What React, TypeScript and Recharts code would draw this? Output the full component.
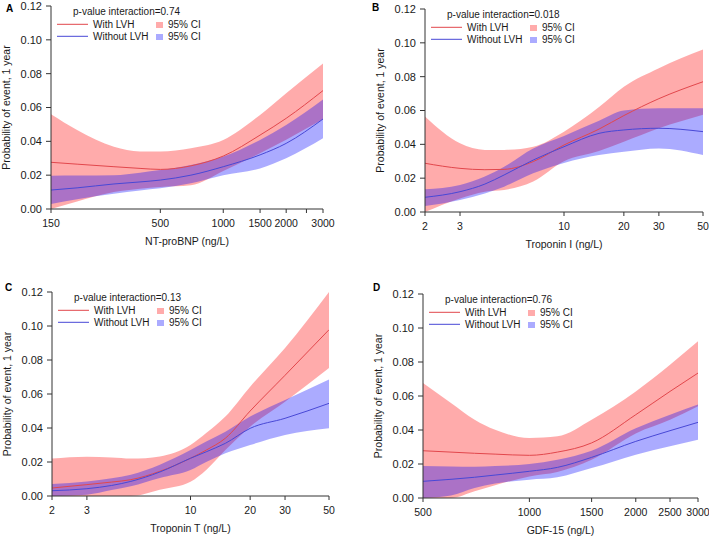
import React from 'react';
import { ComposedChart, Area, Line, XAxis, YAxis } from 'recharts';

// ---------- Panel A: NT-proBNP ----------
const aX = [150, 200, 300, 400, 500, 700, 1000, 1500, 2000, 3000];
const aRed = [0.0276, 0.0265, 0.025, 0.024, 0.0234, 0.0255, 0.0313, 0.0437, 0.0536, 0.07];
const aRedLo = [0.0, 0.0045, 0.01, 0.012, 0.013, 0.014, 0.0225, 0.033, 0.041, 0.053];
const aRedHi = [0.056, 0.0467, 0.0368, 0.034, 0.034, 0.0359, 0.0408, 0.0556, 0.0684, 0.086];
const aBlue = [0.0112, 0.0125, 0.0148, 0.016, 0.0171, 0.02, 0.025, 0.032, 0.0388, 0.0532];
const aBlueLo = [0.003, 0.0058, 0.009, 0.011, 0.0122, 0.0152, 0.02, 0.024, 0.03, 0.0418];
const aBlueHi = [0.0197, 0.0198, 0.02, 0.0215, 0.023, 0.026, 0.031, 0.0408, 0.0497, 0.0648];
const aTicks = [150, 500, 1000, 1500, 2000, 2500, 3000];
const aHidden = [2500];

// ---------- Panel B: Troponin I ----------
const bX = [2, 3, 4, 5, 7, 10, 15, 20, 30, 50];
const bRed = [0.0288, 0.0258, 0.025, 0.0252, 0.0298, 0.0396, 0.049, 0.057, 0.067, 0.077];
const bRedLo = [0.0, 0.008, 0.012, 0.013, 0.018, 0.03, 0.036, 0.0415, 0.0495, 0.0575];
const bRedHi = [0.0564, 0.0406, 0.0367, 0.0367, 0.0386, 0.0475, 0.062, 0.074, 0.085, 0.096];
const bBlue = [0.0087, 0.012, 0.0165, 0.0219, 0.0307, 0.0386, 0.0465, 0.0485, 0.0495, 0.0475];
const bBlueLo = [0.0035, 0.0071, 0.011, 0.015, 0.0229, 0.029, 0.0337, 0.0356, 0.0376, 0.0337];
const bBlueHi = [0.0134, 0.016, 0.021, 0.0268, 0.0376, 0.045, 0.054, 0.06, 0.0613, 0.0613];
const bTicks = [2, 3, 10, 20, 30, 50];

// ---------- Panel C: Troponin T ----------
const cX = [2, 3, 4, 5, 7, 10, 12, 15, 20, 30, 50];
const cRed = [0.0047, 0.0067, 0.0082, 0.0096, 0.0145, 0.0222, 0.027, 0.034, 0.05, 0.071, 0.0978];
const cRedLo = [0.0, 0.0, 0.0, 0.0, 0.0037, 0.0084, 0.0153, 0.027, 0.0408, 0.0555, 0.0753];
const cRedHi = [0.022, 0.0231, 0.0226, 0.022, 0.0233, 0.03, 0.037, 0.0467, 0.0643, 0.087, 0.12];
const cBlue = [0.0031, 0.0043, 0.0062, 0.0086, 0.0141, 0.0222, 0.026, 0.031, 0.0398, 0.0457, 0.0545];
const cBlueLo = [0.0, 0.0008, 0.0035, 0.0057, 0.0106, 0.0153, 0.02, 0.0251, 0.03, 0.0359, 0.0398];
const cBlueHi = [0.007, 0.0086, 0.0105, 0.0125, 0.0184, 0.027, 0.032, 0.0378, 0.0467, 0.0565, 0.0686];
const cTicks = [2, 3, 10, 20, 30, 50];

// ---------- Panel D: GDF-15 ----------
const dX = [500, 600, 700, 800, 1000, 1200, 1500, 2000, 2500, 3000];
const dRed = [0.0278, 0.027, 0.0263, 0.0258, 0.0251, 0.027, 0.0324, 0.049, 0.0627, 0.0735];
const dRedLo = [0.0, 0.0, 0.0039, 0.0075, 0.0127, 0.0153, 0.0225, 0.038, 0.046, 0.054];
const dRedHi = [0.0676, 0.0559, 0.0461, 0.0402, 0.0353, 0.0363, 0.0461, 0.0627, 0.0784, 0.0922];
const dBlue = [0.0098, 0.011, 0.0122, 0.0135, 0.0157, 0.018, 0.0239, 0.0333, 0.0396, 0.0445];
const dBlueLo = [0.0, 0.0015, 0.0059, 0.0085, 0.0108, 0.0122, 0.0176, 0.0255, 0.0304, 0.0343];
const dBlueHi = [0.0188, 0.0186, 0.0184, 0.0188, 0.02, 0.0225, 0.0278, 0.041, 0.049, 0.055];
const dTicks = [500, 1000, 1500, 2000, 2500, 3000];

const yTicks = [0, 0.02, 0.04, 0.06, 0.08, 0.1, 0.12];

const RED = '#ff0000';
const BLUE = '#0000ff';
const RED_LINE = '#e2474c';
const BLUE_LINE = '#4848d6';
const CI_OPACITY = 0.33;
const TEXT = '#1a1a1a';
const FONT = '"Liberation Sans", Arial, Helvetica, sans-serif';

function buildRows(x: number[], red: number[], redLo: number[], redHi: number[], blue: number[], blueLo: number[], blueHi: number[]) {
  return x.map((v, i) => ({
    x: v,
    red: red[i],
    redCI: [redLo[i], redHi[i]],
    blue: blue[i],
    blueCI: [blueLo[i], blueHi[i]],
  }));
}

type PanelProps = {
  letter: string;
  letterLeft: number;
  letterTop: number;
  left: number;
  top: number;
  width: number;
  height: number;
  margin: { top: number; right: number; bottom: number; left: number };
  rows: any[];
  domain: [number, number];
  ticks: number[];
  hidden?: number[];
  xTitle: string;
  pval: string;
};

const Y_AXIS_W = 51;

function LegendBox({ pval }: { pval: string }) {
  return (
    <svg width={200} height={40} style={{ position: 'absolute', left: 0, top: 0, overflow: 'visible' }}>
      <g fontFamily={FONT} fontSize={10} fill={TEXT}>
        <text x={22} y={9}>{`p-value interaction=${pval}`}</text>
        <line x1={6} x2={37} y1={18.3} y2={18.3} stroke={RED_LINE} strokeWidth={1} />
        <text x={42} y={22}>With LVH</text>
        <rect x={105} y={16} width={7} height={6} fill={RED} fillOpacity={CI_OPACITY} />
        <text x={117} y={22}>95% CI</text>
        <line x1={6} x2={37} y1={30.3} y2={30.3} stroke={BLUE_LINE} strokeWidth={1} />
        <text x={42} y={34}>Without LVH</text>
        <rect x={105} y={28} width={7} height={6} fill={BLUE} fillOpacity={CI_OPACITY} />
        <text x={117} y={34}>95% CI</text>
      </g>
    </svg>
  );
}

function Panel(p: PanelProps) {
  const hidden = p.hidden || [];
  const plotLeft = p.margin.left + Y_AXIS_W;
  return (
    <div style={{ position: 'absolute', left: p.left, top: p.top, width: p.width, height: p.height }}>
      <ComposedChart width={p.width} height={p.height} data={p.rows} margin={p.margin}>
        <XAxis
          dataKey="x"
          type="number"
          scale="log"
          domain={p.domain}
          ticks={p.ticks}
          allowDataOverflow
          interval={0}
          height={40}
          tickSize={4}
          tickMargin={7}
          stroke="#333"
          tick={{ fontSize: 10.5, fill: TEXT, fontFamily: FONT }}
          tickFormatter={(v: number) => (hidden.includes(v) ? '' : String(v))}
          label={{ value: p.xTitle, position: 'insideBottom', offset: 4, fontSize: 10.5, fill: TEXT, fontFamily: FONT }}
        />
        <YAxis
          type="number"
          domain={[0, 0.12]}
          ticks={yTicks}
          allowDataOverflow
          interval={0}
          width={Y_AXIS_W}
          tickSize={5}
          tickMargin={4}
          stroke="#333"
          tick={{ fontSize: 11, fill: TEXT, fontFamily: FONT }}
          tickFormatter={(v: number) => v.toFixed(2)}
          label={{
            value: 'Probability of event, 1 year',
            angle: -90,
            position: 'insideLeft',
            offset: 6,
            fontSize: 10.5,
            fill: TEXT,
            fontFamily: FONT,
            style: { textAnchor: 'middle' },
          }}
        />
        <Area dataKey="redCI" type="monotone" fill={RED} fillOpacity={CI_OPACITY} stroke="none" isAnimationActive={false} />
        <Area dataKey="blueCI" type="monotone" fill={BLUE} fillOpacity={CI_OPACITY} stroke="none" isAnimationActive={false} />
        <Line dataKey="red" type="monotone" stroke={RED_LINE} strokeWidth={1} dot={false} isAnimationActive={false} />
        <Line dataKey="blue" type="monotone" stroke={BLUE_LINE} strokeWidth={1} dot={false} isAnimationActive={false} />
      </ComposedChart>
      <div style={{ position: 'absolute', left: plotLeft, top: p.margin.top, width: 200, height: 40 }}>
        <LegendBox pval={p.pval} />
      </div>
      <div
        style={{
          position: 'absolute',
          left: p.letterLeft,
          top: p.letterTop,
          fontFamily: FONT,
          fontWeight: 'bold',
          fontSize: 10,
          lineHeight: '10px',
          color: '#000',
        }}
      >
        {p.letter}
      </div>
    </div>
  );
}

export default function App() {
  const rowsA = buildRows(aX, aRed, aRedLo, aRedHi, aBlue, aBlueLo, aBlueHi);
  const rowsB = buildRows(bX, bRed, bRedLo, bRedHi, bBlue, bBlueLo, bBlueHi);
  const rowsC = buildRows(cX, cRed, cRedLo, cRedHi, cBlue, cBlueLo, cBlueHi);
  const rowsD = buildRows(dX, dRed, dRedLo, dRedHi, dBlue, dBlueLo, dBlueHi);
  return (
    <div style={{ position: 'absolute', left: 0, top: 0, width: 709, height: 538, background: '#fff', fontFamily: FONT }}>
      <Panel letter="A" letterLeft={6} letterTop={4} left={0} top={0} width={354} height={268}
        margin={{ top: 6, right: 31, bottom: 19, left: 0 }}
        rows={rowsA} domain={[150, 3000]} ticks={aTicks} hidden={aHidden}
        xTitle="NT-proBNP (ng/L)" pval="0.74" />
      <Panel letter="B" letterLeft={17} letterTop={3} left={355} top={0} width={354} height={268}
        margin={{ top: 9, right: 6, bottom: 16, left: 19 }}
        rows={rowsB} domain={[2, 50]} ticks={bTicks}
        xTitle="Troponin I (ng/L)" pval="0.018" />
      <Panel letter="C" letterLeft={5} letterTop={15} left={0} top={268} width={354} height={270}
        margin={{ top: 24, right: 25, bottom: 2, left: 1 }}
        rows={rowsC} domain={[2, 50]} ticks={cTicks}
        xTitle="Troponin T (ng/L)" pval="0.13" />
      <Panel letter="D" letterLeft={18} letterTop={15} left={355} top={268} width={354} height={270}
        margin={{ top: 26, right: 11, bottom: 0, left: 17 }}
        rows={rowsD} domain={[500, 3000]} ticks={dTicks}
        xTitle="GDF-15 (ng/L)" pval="0.76" />
    </div>
  );
}
